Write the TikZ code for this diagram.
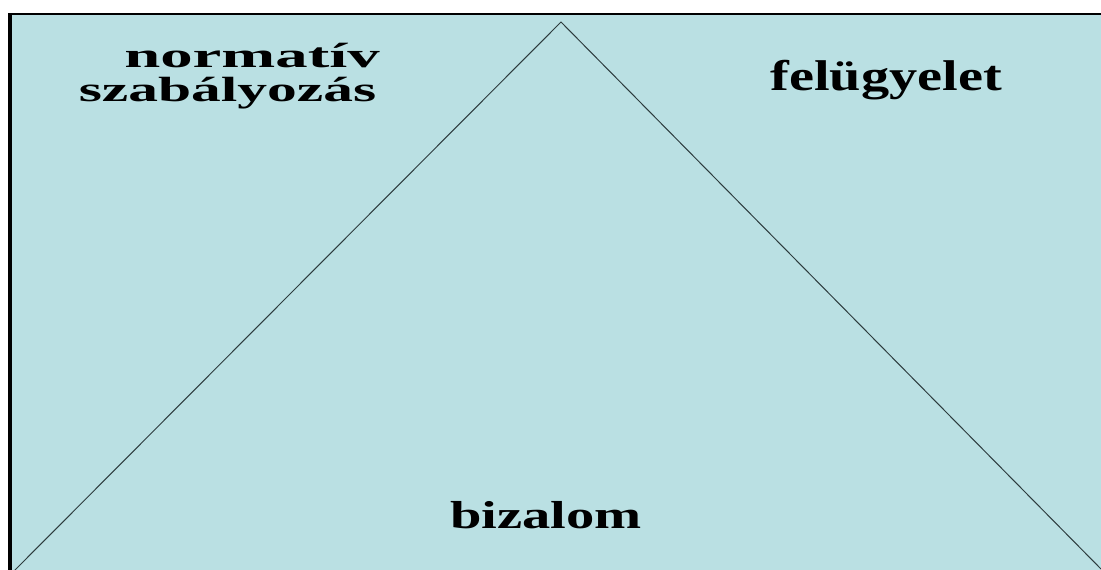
\documentclass[tikz,border=0pt]{standalone}
\usepackage{fontspec}
\setmainfont{Liberation Serif}
\definecolor{panelblue}{RGB}{186,224,227}
\definecolor{edgegray}{RGB}{45,60,62}
\tikzset{
  lbl/.style={anchor=base, inner sep=0pt, text=black, font=\bfseries},
  frameline/.style={draw=black},
  sideline/.style={draw=edgegray, line width=1pt}
}
\newcommand{\lblsize}[1]{\fontsize{#1}{#1}\selectfont}
\begin{document}
\begin{tikzpicture}[x=1pt,y=-1pt]
\useasboundingbox (0,0) rectangle (1101,570);
\fill[white] (0,0) rectangle (1101,570);
\fill[panelblue] (10,14) rectangle (1101,570);
\draw[frameline, line width=1.6pt] (8,13.8) -- (1101,13.8);
\draw[frameline, line width=3.6pt] (9.8,13) -- (9.8,570);
\coordinate (apex) at (561,22);
\coordinate (bl) at (14,571);
\coordinate (br) at (1101,569);
\draw[sideline] (bl) -- (apex) -- (br);
\node[lbl] (n1) at (252,67) {\lblsize{35}\scalebox{1.85}[1]{normatív}};
\node[lbl] (n2) at (227.5,101) {\lblsize{35}\scalebox{1.70}[1]{szabályozás}};
\node[lbl] (n3) at (886,90) {\lblsize{43}\scalebox{1.31}[1]{felügyelet}};
\node[lbl] (n4) at (546,528) {\lblsize{39}\scalebox{1.45}[1]{bizalom}};
\end{tikzpicture}
\end{document}
